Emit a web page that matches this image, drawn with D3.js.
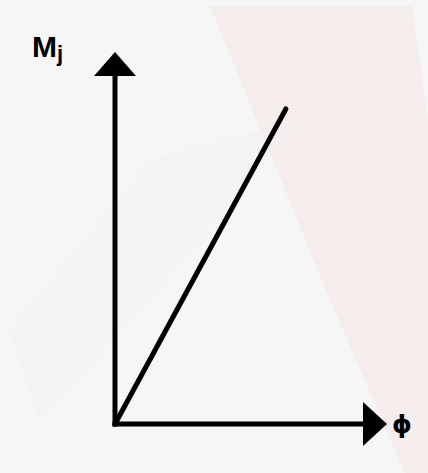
<!DOCTYPE html>
<html>
<head>
<meta charset="utf-8">
<script src="https://cdn.jsdelivr.net/npm/d3@7"></script>
<style>
  body { margin: 0; background: #f6f6f6; }
  svg { display: block; }
</style>
</head>
<body>
<div id="chart"></div>
<script>
/* moment vs rotation sketch: straight line from origin */

const phi = [0, 0.67];   // rotation (x)
const mj = [0, 0.89];    // moment (y)
const xLabel = "ϕ",
    yLabel = "M",
    ySub = "j";

const width = 428,
    height = 473,
    origin = {x: 115, y: 424};

let svg = d3.select("#chart")
    .append("svg")
    .attr("width", width)
    .attr("height", height);

// faint background shading from the photo
svg.append("rect")
    .attr("width", width).attr("height", height)
    .attr("fill", "#f6f6f6");
svg.append("polygon")
    .attr("points", "210,6 412,6 428,120 428,473 405,473 330,300")
    .attr("fill", "#f5ecec");
svg.append("polygon")
    .attr("points", "10,330 150,160 300,120 150,300 40,420")
    .attr("fill", "#f1f1f1")
    .attr("opacity", 0.5);

const x = d3.scaleLinear() // x axis scale, ends just inside the arrowhead
    .domain([0, 1])
    .range([origin.x, 370]);

const y = d3.scaleLinear()
    .domain([0, 1])
    .range([origin.y, 70]);

// axes with no ticks, just the thick domain line
svg.append("g")
    .attr("transform", `translate(0,${origin.y})`)
    .call(d3.axisBottom(x).ticks(0).tickSizeOuter(0))
    .call(g => g.select(".domain")
        .attr("stroke", "#000")
        .attr("stroke-width", 5)
        .attr("d", `M${origin.x - 2.5},0H${x(1)}`));

svg.append("g")
    .attr("transform", `translate(${origin.x},0)`)
    .call(d3.axisLeft(y).ticks(0).tickSizeOuter(0))
    .call(g => g.select(".domain")
        .attr("stroke", "#000")
        .attr("stroke-width", 5)
        .attr("d", `M0,${origin.y + 2.5}V${y(1)}`));

// arrowheads
const xe = x(1), ye = y(1);
svg.append("polygon")
    .attr("points", `${xe - 7},${origin.y - 22} ${xe + 17},${origin.y} ${xe - 7},${origin.y + 22}`)
    .attr("fill", "#000");
svg.append("polygon")
    .attr("points", `${origin.x - 21},${ye + 6} ${origin.x},${ye - 18} ${origin.x + 21},${ye + 6}`)
    .attr("fill", "#000");

// the line
const line = d3.line()
    .x(d => x(d[0]))
    .y(d => y(d[1]));

svg.append("path")
    .datum(d3.zip(phi, mj))
    .attr("d", line)
    .attr("fill", "none")
    .attr("stroke", "#000")
    .attr("stroke-width", 5)
    .attr("stroke-linecap", "round");

// labels
let yl = svg.append("text")
    .attr("x", 32)
    .attr("y", 57)
    .attr("font-family", "Liberation Sans, Arial, sans-serif")
    .attr("font-weight", "bold")
    .attr("font-size", 30)
    .attr("fill", "#000");
yl.append("tspan").text(yLabel);
yl.append("tspan")
    .attr("font-size", 22)
    .attr("dy", 4)
    .text(ySub);

svg.append("text")
    .attr("x", 392)
    .attr("y", 433)
    .attr("font-family", "DejaVu Sans, sans-serif")
    .attr("font-weight", "bold")
    .attr("font-size", 25)
    .attr("fill", "#000")
    .text(xLabel);
</script>
</body>
</html>
